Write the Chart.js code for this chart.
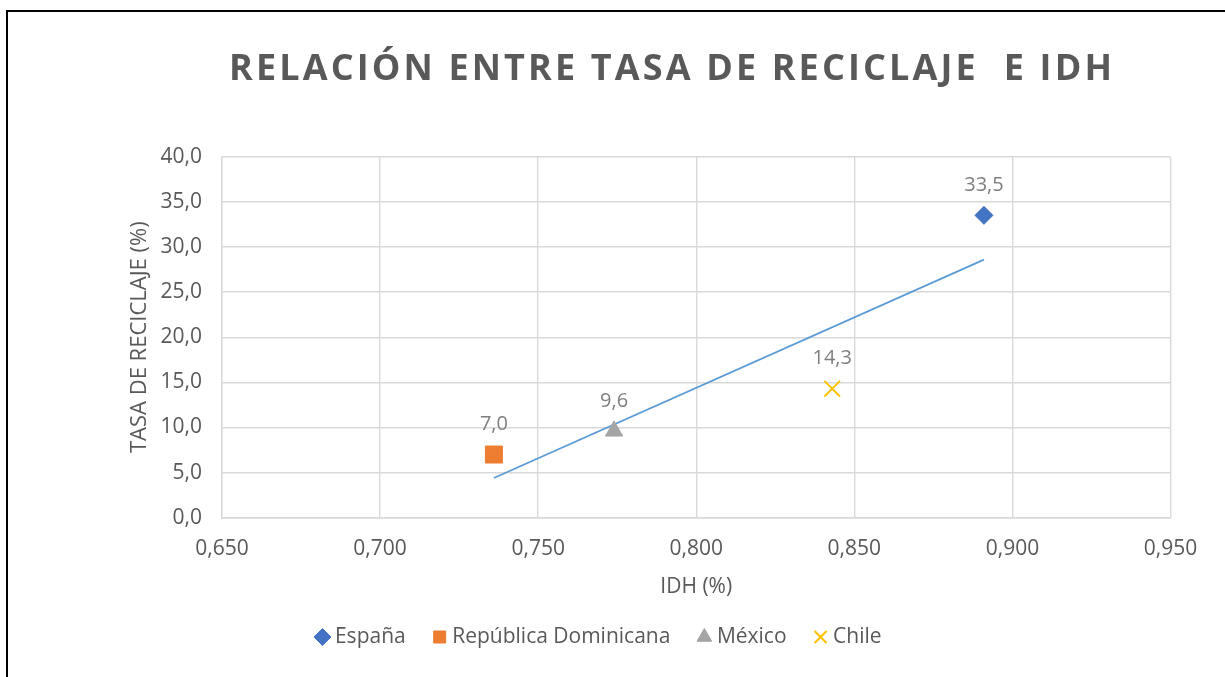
<!DOCTYPE html>
<html>
<head>
<meta charset="utf-8">
<script src="https://cdn.jsdelivr.net/npm/chart.js@4/dist/chart.umd.min.js"></script>
<style>
  html, body { margin: 0; padding: 0; background: #fff; width: 1225px; height: 677px; overflow: hidden; }
  #wrap { position: relative; width: 1225px; height: 677px; }
  #c { position: absolute; left: 0; top: 0; }
  #frame { position: absolute; left: 6px; top: 10px; width: 1300px; height: 800px;
           border-left: 2px solid #000; border-top: 2px solid #000; pointer-events: none; }
</style>
</head>
<body>
<div id="wrap">
  <canvas id="c" width="1225" height="677"></canvas>
  <div id="frame"></div>
</div>
<script>
// ---- data ----
const chartTitle = 'RELACIÓN ENTRE TASA DE RECICLAJE  E IDH';
const countries = ['España', 'República Dominicana', 'México', 'Chile'];
const idhValues = [0.891, 0.736, 0.774, 0.843];
const recyclingRates = [33.5, 7.0, 9.6, 14.3];
const trendX = [0.736, 0.891];
const trendY = [4.4, 28.6];
const xTicks = [0.65, 0.70, 0.75, 0.80, 0.85, 0.90, 0.95];
const yTicks = [0, 5, 10, 15, 20, 25, 30, 35, 40];
const xTitle = 'IDH (%)';
const yTitle = 'TASA DE RECICLAJE (%)';

// ---- styles ----
const colors = ['#4472C4', '#ED7D31', '#A5A5A5', '#FFC000'];
const styles = ['rectRot', 'rect', 'triangle', 'crossRot'];
const radii = [9, 12, 10, 11];
const borders = [1, 1, 1, 2];
const FONT = "'Open Sans', 'Noto Sans', sans-serif";
const TEXT = '#595959';
const LEGEND_FONT = 21;
const LEGEND_PAD = 32;
const fmt = (v, d) => Number(v).toFixed(d).replace('.', ',');

const datasets = countries.map((name, i) => ({
  label: name,
  data: [{ x: idhValues[i], y: recyclingRates[i] }],
  pointStyle: styles[i],
  backgroundColor: colors[i],
  borderColor: colors[i],
  borderWidth: borders[i],
  pointRadius: radii[i],
  pointHoverRadius: radii[i],
  showLine: false,
  isPoint: true
}));
datasets.push({
  label: 'trend',
  data: trendX.map((x, i) => ({ x: x, y: trendY[i] })),
  showLine: true,
  borderColor: '#5B9BD5',
  backgroundColor: '#5B9BD5',
  borderWidth: 1.8,
  pointRadius: 0,
  pointHoverRadius: 0,
  isPoint: false,
  order: 10
});

const titlePlugin = {
  id: 'spacedTitle',
  afterDraw(chart) {
    const ctx = chart.ctx;
    ctx.save();
    ctx.font = "bold 36px " + FONT;
    ctx.fillStyle = TEXT;
    ctx.textBaseline = 'alphabetic';
    ctx.textAlign = 'left';
    const chars = Array.from(chartTitle);
    const widths = chars.map(c => ctx.measureText(c).width);
    const raw = widths.reduce((a, b) => a + b, 0);
    const targetW = 883;
    const sp = Math.max(0, (targetW - raw) / (chars.length - 1));
    let x = 670.5 - (raw + sp * (chars.length - 1)) / 2;
    chars.forEach((c, i) => { ctx.fillText(c, x, 80); x += widths[i] + sp; });
    ctx.restore();
  }
};

const labelPlugin = {
  id: 'pointLabels',
  afterDatasetsDraw(chart) {
    const ctx = chart.ctx;
    ctx.save();
    ctx.font = "20px " + FONT;
    ctx.fillStyle = '#7F7F7F';
    ctx.textAlign = 'center';
    ctx.textBaseline = 'middle';
    chart.data.datasets.forEach((ds, di) => {
      if (!ds.isPoint) return;
      const meta = chart.getDatasetMeta(di);
      meta.data.forEach((el, j) => {
        ctx.fillText(fmt(ds.data[j].y, 1), el.x, el.y - 30);
      });
    });
    ctx.restore();
  }
};

// place the legend row where the reference has it
const legendShift = {
  id: 'legendShift',
  afterLayout(chart) {
    const lg = chart.legend;
    if (!lg) return;
    const dx = 601 - (lg.left + lg.right) / 2;
    const dy = 637 - (lg.top + LEGEND_PAD + LEGEND_FONT / 2);
    lg.left += dx; lg.right += dx;
    lg.top += dy; lg.bottom += dy;
  }
};

new Chart(document.getElementById('c'), {
  type: 'scatter',
  data: { datasets: datasets },
  plugins: [titlePlugin, labelPlugin, legendShift],
  options: {
    responsive: false,
    animation: false,
    layout: { padding: { left: 122.8, top: 156.7, right: 54.5, bottom: 10 } },
    plugins: {
      title: { display: false },
      tooltip: { enabled: false },
      legend: {
        display: true,
        position: 'bottom',
        labels: {
          usePointStyle: true,
          boxWidth: 4,
          boxHeight: 12,
          padding: LEGEND_PAD,
          color: TEXT,
          font: { family: FONT, size: LEGEND_FONT },
          filter: (item, data) => data.datasets[item.datasetIndex].isPoint
        }
      }
    },
    scales: {
      x: {
        type: 'linear',
        min: xTicks[0],
        max: xTicks[xTicks.length - 1],
        afterBuildTicks: (s) => { s.ticks = xTicks.map(v => ({ value: v })); },
        afterFit: (s) => { s.height = 86.3; },
        ticks: {
          padding: 19,
          color: TEXT,
          font: { family: FONT, size: 21 },
          callback: (v) => fmt(v, 3)
        },
        grid: { color: '#D9D9D9', lineWidth: 1.4, drawTicks: false },
        border: { color: '#D9D9D9', width: 1.4 },
        title: { display: true, text: xTitle, color: TEXT, font: { family: FONT, size: 21 } }
      },
      y: {
        type: 'linear',
        min: yTicks[0],
        max: yTicks[yTicks.length - 1],
        afterBuildTicks: (s) => { s.ticks = yTicks.map(v => ({ value: v })); },
        afterFit: (s) => { s.width = 99.2; },
        ticks: {
          padding: 20,
          color: TEXT,
          font: { family: FONT, size: 21 },
          callback: (v) => fmt(v, 1)
        },
        grid: { color: '#D9D9D9', lineWidth: 1.4, drawTicks: false },
        border: { color: '#D9D9D9', width: 1.4 },
        title: { display: true, text: yTitle, color: TEXT, font: { family: FONT, size: 22 } }
      }
    }
  }
});
</script>
</body>
</html>
